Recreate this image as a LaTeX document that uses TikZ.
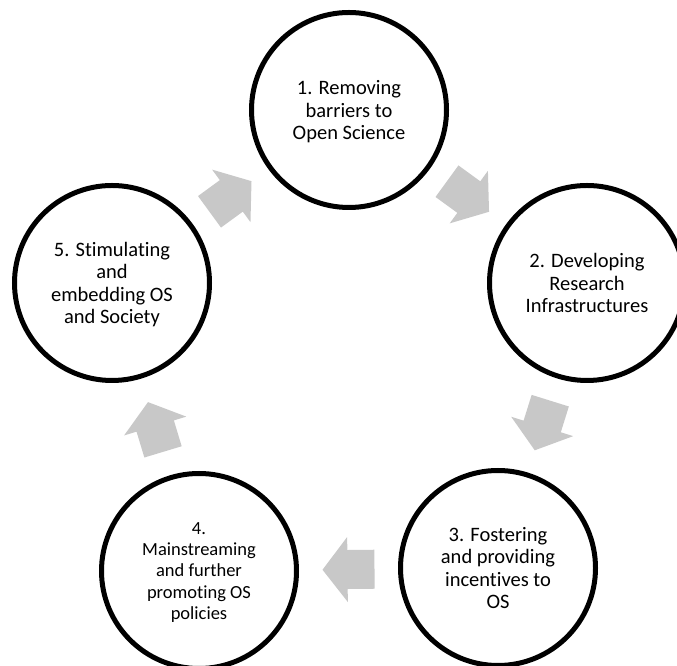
\documentclass[tikz,border=0pt]{standalone}
\usepackage{fontspec}
\setmainfont[Ligatures=NoCommon]{Carlito}
\definecolor{arrowgray}{RGB}{200,200,200}
\tikzset{
  stage/.style={circle, draw=black, line width=5pt, minimum size=195pt, inner sep=0pt,
    align=center, text=black, text depth=0pt, font=\fontsize{20.5}{22.5}\selectfont},
  smallstage/.style={stage, font=\fontsize{18.5}{21.3}\selectfont},
  blockarrow/.pic={\fill[arrowgray] (-26,-19.5) -- (1,-19.5) -- (1,-32.5) -- (26,0)
      -- (1,32.5) -- (1,19.5) -- (-26,19.5) -- cycle;},
  flow/.style={midway, sloped, allow upside down}
}
\begin{document}
\begin{tikzpicture}[x=1pt,y=1pt]
\useasboundingbox (0,0) rectangle (677,666);
\clip (0,0) rectangle (677,666);
\node[stage] (s1) at (349,556) {1. Removing\\barriers to\\Open Science};
\node[stage] (s2) at (587,383) {2. Developing\\Research\\Infrastructures};
\node[stage] (s3) at (498,98) {3. Fostering\\and providing\\incentives to\hspace*{.35em}\\OS};
\node[smallstage] (s4) at (199,95) {4.\\Mainstreaming\\and further\\promoting OS\\policies};
\node[stage] (s5) at (112,383) {5. Stimulating\\and\\embedding OS\\and Society};
\path (s1) -- (s2) pic[flow] {blockarrow};
\path (s2) -- (s3) pic[flow] {blockarrow};
\path (s3) -- (s4) pic[flow] {blockarrow};
\path (s4) -- (s5) pic[flow] {blockarrow};
\path (s5) -- (s1) pic[flow] {blockarrow};
\end{tikzpicture}
\end{document}
